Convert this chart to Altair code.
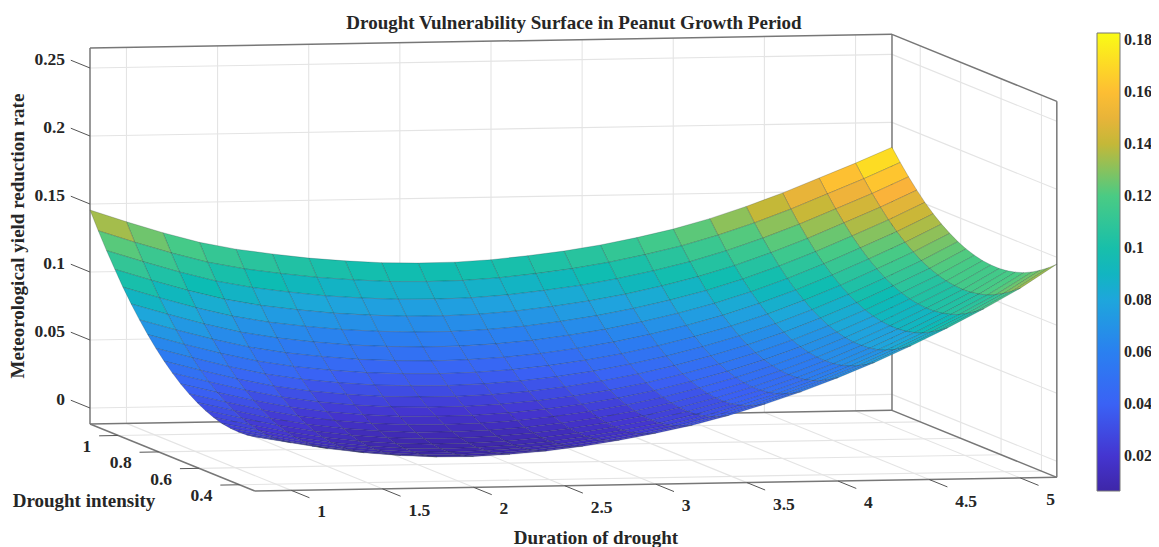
import altair as alt
import pandas as pd

TITLE = "Drought Vulnerability Surface in Peanut Growth Period"
XLABEL = "Duration of drought"
YLABEL = "Drought intensity"
ZLABEL = "Meteorological yield reduction rate"

duration = [0.8, 1.0, 1.2, 1.4, 1.6, 1.8, 2.0, 2.2, 2.4, 2.6, 2.8, 3.0, 3.2, 3.4, 3.6, 3.8, 4.0, 4.2, 4.4, 4.6, 4.8, 5.0, 5.2]
intensity = [0.324, 0.365, 0.406, 0.446, 0.487, 0.528, 0.569, 0.609, 0.650, 0.691, 0.732, 0.773, 0.814, 0.854, 0.895, 0.936, 0.977, 1.017, 1.058, 1.099, 1.14]

# one row per duration, values run along intensity
reduction = [
    [.0280, .0270, .0267, .0270, .0281, .0300, .0326, .0360, .0400, .0448, .0503, .0566, .0636, .0712, .0796, .0888, .0987, .1094, .1207, .1328, .1456],
    [.0232, .0220, .0214, .0216, .0225, .0241, .0265, .0297, .0335, .0381, .0434, .0494, .0562, .0636, .0718, .0808, .0904, .1009, .1121, .1239, .1365],
    [.0185, .0171, .0164, .0163, .0170, .0185, .0207, .0236, .0273, .0317, .0368, .0426, .0492, .0565, .0645, .0732, .0827, .0930, .1040, .1156, .1280],
    [.0150, .0134, .0125, .0122, .0127, .0140, .0160, .0187, .0222, .0264, .0313, .0369, .0433, .0504, .0582, .0667, .0760, .0861, .0969, .1083, .1205],
    [.0125, .0107, .0097, .0093, .0096, .0107, .0126, .0152, .0185, .0225, .0273, .0328, .0390, .0459, .0536, .0620, .0711, .0810, .0917, .1030, .1150],
    [.0110, .0091, .0079, .0074, .0076, .0086, .0103, .0128, .0160, .0199, .0245, .0299, .0360, .0428, .0503, .0586, .0676, .0774, .0879, .0991, .1110],
    [.0108, .0087, .0074, .0067, .0067, .0076, .0091, .0114, .0145, .0182, .0227, .0279, .0338, .0405, .0478, .0559, .0648, .0744, .0847, .0958, .1075],
    [.0120, .0098, .0082, .0074, .0072, .0079, .0092, .0114, .0142, .0178, .0220, .0271, .0328, .0393, .0464, .0544, .0630, .0725, .0826, .0935, .1050],
    [.0140, .0116, .0098, .0088, .0084, .0089, .0101, .0120, .0147, .0180, .0221, .0270, .0325, .0388, .0457, .0535, .0620, .0712, .0812, .0918, .1032],
    [.0170, .0144, .0125, .0112, .0107, .0110, .0120, .0137, .0162, .0194, .0233, .0279, .0333, .0394, .0462, .0537, .0620, .0711, .0809, .0913, .1025],
    [.0210, .0182, .0161, .0147, .0139, .0140, .0148, .0164, .0187, .0217, .0254, .0298, .0350, .0409, .0475, .0549, .0630, .0718, .0814, .0917, .1027],
    [.0257, .0227, .0204, .0188, .0180, .0179, .0185, .0199, .0220, .0248, .0284, .0327, .0377, .0434, .0498, .0570, .0649, .0737, .0831, .0932, .1040],
    [.0311, .0280, .0255, .0238, .0228, .0226, .0230, .0243, .0263, .0289, .0323, .0365, .0413, .0469, .0532, .0603, .0680, .0766, .0859, .0958, .1065],
    [.0379, .0346, .0320, .0300, .0288, .0284, .0287, .0298, .0315, .0340, .0372, .0412, .0459, .0512, .0573, .0642, .0718, .0802, .0892, .0990, .1095],
    [.0458, .0423, .0395, .0374, .0359, .0353, .0354, .0363, .0379, .0402, .0432, .0469, .0514, .0566, .0625, .0692, .0766, .0847, .0936, .1032, .1135],
    [.0545, .0508, .0478, .0455, .0439, .0431, .0430, .0437, .0451, .0472, .0500, .0536, .0579, .0629, .0686, .0751, .0823, .0903, .0990, .1084, .1185],
    [.0643, .0604, .0572, .0547, .0529, .0519, .0516, .0521, .0533, .0552, .0578, .0612, .0653, .0701, .0756, .0819, .0889, .0967, .1052, .1144, .1243],
    [.0750, .0709, .0676, .0649, .0629, .0617, .0613, .0616, .0626, .0643, .0668, .0700, .0739, .0785, .0839, .0900, .0968, .1044, .1128, .1218, .1315],
    [.0868, .0826, .0790, .0762, .0740, .0727, .0721, .0722, .0731, .0746, .0769, .0800, .0837, .0882, .0933, .0993, .1060, .1134, .1216, .1304, .1400],
    [.0995, .0951, .0914, .0884, .0861, .0846, .0838, .0838, .0845, .0859, .0880, .0909, .0945, .0988, .1038, .1096, .1161, .1234, .1314, .1401, .1495],
    [.1131, .1085, .1047, .1015, .0991, .0974, .0965, .0963, .0969, .0981, .1001, .1028, .1062, .1104, .1152, .1209, .1272, .1344, .1422, .1508, .1600],
    [.1278, .1230, .1190, .1156, .1129, .1111, .1099, .1095, .1099, .1109, .1127, .1152, .1184, .1224, .1270, .1324, .1386, .1455, .1531, .1615, .1705],
    [.1450, .1399, .1356, .1319, .1289, .1268, .1253, .1246, .1247, .1254, .1269, .1291, .1320, .1357, .1400, .1451, .1510, .1576, .1649, .1730, .1817],
]

d_ticks = [1, 1.5, 2, 2.5, 3, 3.5, 4, 4.5, 5]
i_ticks = [0.4, 0.6, 0.8, 1]
z_ticks = [0, 0.05, 0.1, 0.15, 0.2, 0.25]
cbar_ticks = [0.02, 0.04, 0.06, 0.08, 0.1, 0.12, 0.14, 0.16, 0.18]

color_domain = [0.0066, 0.02, 0.04, 0.06, 0.08, 0.095, 0.12, 0.14, 0.155, 0.165, 0.1827]
color_range = ["#3e26a8", "#4435d0", "#3a62f5", "#2a80f0", "#1ea6dc", "#0cbcb4", "#4acb84", "#c4b838", "#fab23a", "#ffca2c", "#f9fb15"]

D0, D1, I0, I1, Z0, Z1 = 0.8, 5.2, 0.324, 1.14, -0.01176, 0.2647
FONT = "Liberation Serif"
INK = "#262626"
W, H = 1143, 539


def proj(d, i, z):
    """Oblique projection of the 3-D box; returns page pixels."""
    x = 90 + (d - D0) * 182.27 + (I1 - i) * 202.0
    y = 424 - (d - D0) * 3.1 + (I1 - i) * 82.1 - (z - Z0) * 1360
    return x, y


# surface cells, far to near
cells = []
for a in range(len(duration) - 1):
    for b in range(len(intensity) - 1):
        corners = [(a, b), (a + 1, b), (a + 1, b + 1), (a, b + 1), (a, b)]
        ring = []
        for p, q in corners:
            px, py = proj(duration[p], intensity[q], reduction[p][q])
            ring.append([round(px - 8, 2), round(py - 8, 2)])
        mean = sum(reduction[p][q] for p, q in corners[:4]) / 4
        depth = intensity[b] * 82.1 + duration[a] * 3.1
        cells.append((depth, {"type": "Feature", "properties": {"v": round(mean, 5)},
                              "geometry": {"type": "Polygon", "coordinates": [ring]}}))
cells.sort(key=lambda c: -c[0])
features = [c[1] for c in cells]


def seg(a, b):
    ax, ay = proj(*a)
    bx, by = proj(*b)
    return {"x": ax, "y": ay, "x2": bx, "y2": by}


grid_rows = []
for d in d_ticks:
    grid_rows.append(seg((d, I1, Z0), (d, I1, Z1)))
    grid_rows.append(seg((d, I0, Z0), (d, I1, Z0)))
for i in i_ticks:
    grid_rows.append(seg((D1, i, Z0), (D1, i, Z1)))
    grid_rows.append(seg((D0, i, Z0), (D1, i, Z0)))
for z in z_ticks:
    grid_rows.append(seg((D0, I1, z), (D1, I1, z)))
    grid_rows.append(seg((D1, I1, z), (D1, I0, z)))

box_rows = [
    seg((D0, I1, Z0), (D0, I1, Z1)),
    seg((D0, I1, Z1), (D1, I1, Z1)),
    seg((D1, I1, Z0), (D1, I1, Z1)),
    seg((D1, I1, Z1), (D1, I0, Z1)),
    seg((D1, I0, Z0), (D1, I0, Z1)),
    seg((D0, I1, Z0), (D1, I1, Z0)),
    seg((D1, I1, Z0), (D1, I0, Z0)),
    seg((D0, I1, Z0), (D0, I0, Z0)),
    seg((D0, I0, Z0), (D1, I0, Z0)),
]

tick_rows = []
for d in d_ticks:
    tick_rows.append(seg((d, I0, Z0), (d, I0 - 0.09, Z0)))
for i in i_ticks:
    tick_rows.append(seg((D0, i, Z0), (D0 - 0.105, i, Z0)))
for z in z_ticks:
    tick_rows.append(seg((D0, I1, z), (D0, I1 + 0.095, z)))
for v in cbar_ticks:
    ypx = 456.3 - (v - 0.02) * 2600
    tick_rows.append({"x": 1120, "y": ypx, "x2": 1115, "y2": ypx})

z_labels = []
for z in z_ticks:
    px, py = proj(D0, I1, z)
    z_labels.append({"x": px - 25, "y": py - 8, "t": f"{z:g}"})
i_labels = []
for i in i_ticks:
    px, py = proj(D0, i, Z0)
    i_labels.append({"x": px - 27, "y": py + 11.5, "t": f"{i:g}"})
d_labels = []
for d in d_ticks:
    px, py = proj(d, I0, Z0)
    d_labels.append({"x": px + 26, "y": py + 22, "t": f"{d:g}"})

xs = alt.Scale(domain=[8, 8 + W], range=[0, W], nice=False, zero=False)
ys = alt.Scale(domain=[8, 8 + H], range=[0, H], nice=False, zero=False)
X = alt.X("x:Q", scale=xs, axis=None)
Y = alt.Y("y:Q", scale=ys, axis=None)


def rules(rows, color, width):
    return alt.Chart(pd.DataFrame(rows)).mark_rule(color=color, strokeWidth=width).encode(
        x=X, y=Y, x2="x2:Q", y2="y2:Q")


def texts(rows, align, size=17.5, angle=0):
    return alt.Chart(pd.DataFrame(rows)).mark_text(
        align=align, baseline="middle", font=FONT, fontWeight="bold", fontSize=size,
        color=INK, angle=angle).encode(x=X, y=Y, text="t:N")


surface = alt.Chart(alt.InlineData(
    values={"type": "FeatureCollection", "features": features},
    format=alt.DataFormat(property="features", type="json"))
).mark_geoshape(stroke="#1c2a30", strokeWidth=0.5, strokeOpacity=0.45).encode(
    color=alt.Color("properties.v:Q",
                    scale=alt.Scale(domain=color_domain, range=color_range, interpolate="rgb"),
                    legend=alt.Legend(orient="none", legendX=1089, legendY=25, direction="vertical",
                                      gradientLength=458, gradientThickness=23, title=None,
                                      values=cbar_ticks, format=".2~f", labelFont=FONT,
                                      labelFontWeight="bold", labelFontSize=16, labelColor=INK,
                                      labelOffset=4, labelOverlap=False,
                                      gradientStrokeColor="#777777", gradientStrokeWidth=1))
).project(type="identity", scale=1, translate=[0, 0])

chart = alt.layer(
    rules(grid_rows, "#e4e4e4", 1.1),
    rules(box_rows, "#777777", 1.5),
    surface,
    rules(tick_rows, "#555555", 1),
    texts(z_labels, "right"),
    texts(i_labels, "right"),
    texts(d_labels, "left"),
    texts([{"x": 574, "y": 23, "t": TITLE}], "center", 19),
    texts([{"x": 596, "y": 538, "t": XLABEL}], "center", 19),
    texts([{"x": 84, "y": 501, "t": YLABEL}], "center", 19),
    texts([{"x": 18, "y": 236, "t": ZLABEL}], "center", 19, 270),
).resolve_scale(color="independent").properties(
    width=W, height=H, padding=0,
    autosize=alt.AutoSizeParams(type="none"),
).configure_view(stroke=None)

chart.save("out.html", embed_options={"renderer": "svg", "actions": False})
